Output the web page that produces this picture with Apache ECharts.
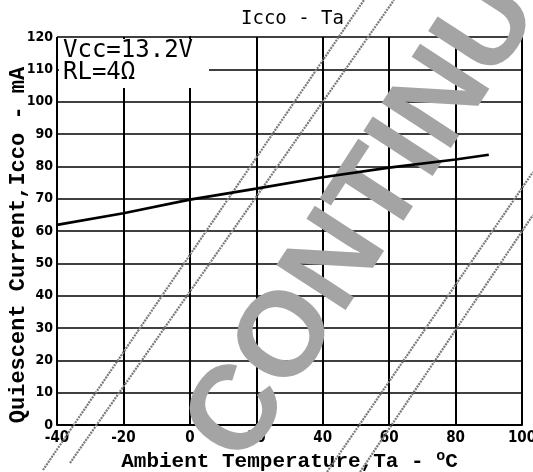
<!DOCTYPE html>
<html>
<head>
<meta charset="utf-8">
<script src="https://cdn.jsdelivr.net/npm/echarts@6/dist/echarts.min.js"></script>
<style>
  html, body { margin: 0; padding: 0; background: #fff; }
  #chart { width: 533px; height: 472px; }
</style>
</head>
<body>
<div id="chart"></div>
<script>
// Quiescent current vs ambient temperature
const temperatures = [-40, -20, 0, 20, 40, 60, 80, 90];
const iccoValues = [61.9, 65.5, 69.7, 73.1, 76.6, 79.6, 82.1, 83.6];
const xTicks = [-40, -20, 0, 20, 40, 60, 80, 100];
const yTicks = [0, 10, 20, 30, 40, 50, 60, 70, 80, 90, 100, 110, 120];
const conditionLines = ['Vcc=13.2V', 'RL=4Ω'];

const chart = echarts.init(document.getElementById('chart'), null, { renderer: 'canvas' });

const monoBold = '"Liberation Mono", "DejaVu Sans Mono", monospace';
const tickFont = '"DejaVu Sans Condensed", "DejaVu Sans", sans-serif';
const stripe = { stroke: '#7a7a7a', lineWidth: 2.2, lineDash: [2, 1] };

const option = {
  backgroundColor: '#fff',
  animation: false,
  grid: { left: 57, right: 11, top: 37, bottom: 47, outerBoundsMode: 'none', containLabel: false },
  xAxis: {
    type: 'value',
    min: xTicks[0],
    max: xTicks[xTicks.length - 1],
    interval: 20,
    name: 'Ambient Temperature,Ta - {sup|o}C',
    nameLocation: 'middle',
    nameGap: 24,
    nameMoveOverlap: false,
    nameTextStyle: {
      fontFamily: monoBold, fontWeight: 'bold', fontSize: 21, color: '#000',
      rich: { sup: { fontFamily: monoBold, fontSize: 15, color: '#000', verticalAlign: 'top', padding: [0, 0, 10, 0] } }
    },
    axisLine: { lineStyle: { color: '#000', width: 2 } },
    axisTick: { show: false },
    axisLabel: { color: '#000', fontFamily: tickFont, fontWeight: 'bold', fontSize: 15, margin: 6 },
    splitLine: { show: true, lineStyle: { color: '#000', width: 2 } }
  },
  yAxis: {
    type: 'value',
    min: yTicks[0],
    max: yTicks[yTicks.length - 1],
    interval: 10,
    name: 'Quiescent Current,Icco - mA',
    nameLocation: 'middle',
    nameGap: 28,
    nameRotate: 90,
    nameMoveOverlap: false,
    nameTextStyle: { fontFamily: monoBold, fontWeight: 'bold', fontSize: 22, color: '#000', padding: [0, 28, 0, 0] },
    axisLine: { show: true, lineStyle: { color: '#000', width: 2 } },
    axisTick: { show: false },
    axisLabel: { color: '#000', fontFamily: tickFont, fontWeight: 'bold', fontSize: 14, margin: 4 },
    splitLine: { show: true, lineStyle: { color: '#000', width: 1.6 } }
  },
  title: {
    text: 'Icco - Ta',
    left: 236,
    top: 5,
    textStyle: { fontFamily: '"DejaVu Sans Mono", monospace', fontWeight: 'normal', fontSize: 19, color: '#000' }
  },
  series: [{
    type: 'line',
    data: temperatures.map((t, i) => [t, iccoValues[i]]),
    showSymbol: false,
    lineStyle: { color: '#000', width: 2.6 },
    z: 5
  }],
  graphic: [
    // blank panel behind the test conditions
    { type: 'rect', z: 3, shape: { x: 59, y: 39, width: 150, height: 49 }, style: { fill: '#fff' } },
    { type: 'text', z: 4, x: 63, y: 40,
      style: { text: conditionLines.join('\n'), font: '24px "DejaVu Sans Mono", monospace', fill: '#000', lineHeight: 22 } },
    // "CONTINUE" stamp across the plot
    { type: 'text', z: 2, x: 386, y: 187, rotation: 0.995, silent: true,
      style: { text: 'CONTINUE', font: 'bold 120px "Liberation Sans", Arial, sans-serif', fill: '#a4a4a4',
               align: 'center', verticalAlign: 'middle' } },
    // hatched guide stripes of the stamp
    { type: 'line', z: 2, silent: true, shape: { x1: 43, y1: 470, x2: 364, y2: 0 }, style: stripe },
    { type: 'line', z: 2, silent: true, shape: { x1: 70, y1: 463, x2: 394, y2: 0 }, style: stripe },
    { type: 'line', z: 2, silent: true, shape: { x1: 327, y1: 472, x2: 533, y2: 172 }, style: stripe },
    { type: 'line', z: 2, silent: true, shape: { x1: 360, y1: 472, x2: 533, y2: 215 }, style: stripe }
  ]
};

chart.setOption(option);
</script>
</body>
</html>
